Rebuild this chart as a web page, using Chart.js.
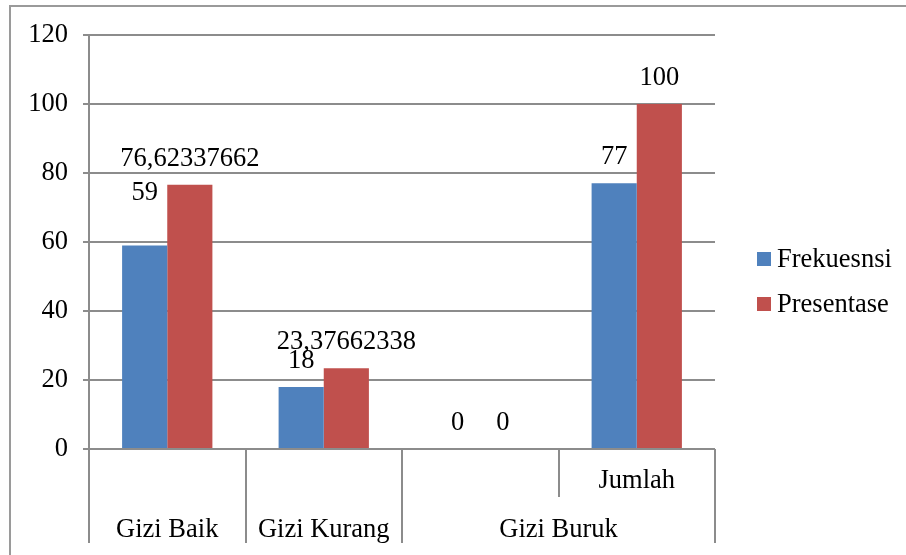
<!DOCTYPE html>
<html>
<head>
<meta charset="utf-8">
<script src="https://cdn.jsdelivr.net/npm/chart.js@4/dist/chart.umd.min.js"></script>
<style>
  html, body { margin: 0; padding: 0; background: #fff; }
  #wrap { width: 906px; height: 555px; }
</style>
</head>
<body>
<div id="wrap"><canvas id="chartGizi" width="906" height="555"></canvas></div>
<script>
const innerLabels = ["", "", "", "Jumlah"];
const groupLabels = ["Gizi Baik", "Gizi Kurang", "Gizi Buruk"];
const groupSpans = [1, 1, 2];
const frekuensi = [59, 18, 0, 77];
const presentase = [76.62337662, 23.37662338, 0, 100];
const seriesNames = ["Frekuesnsi", "Presentase"];
const seriesColors = ["#4f81bd", "#c0504d"];
const yMax = 120, yStep = 20;

const FAMILY = "'Liberation Serif', 'Times New Roman', serif";
const SIZE = 26.5;
const FONT = SIZE + "px " + FAMILY;
const LINE = "#8c8c8c";

// frame around the whole chart (only top/left visible in the crop)
const framePlugin = {
  id: "frame",
  beforeDraw(chart) {
    const c = chart.ctx;
    c.save();
    c.fillStyle = "#fff";
    c.fillRect(0, 0, chart.width, chart.height);
    c.strokeStyle = "#9a9a9a";
    c.lineWidth = 2;
    c.beginPath();
    c.moveTo(10, chart.height);
    c.lineTo(10, 6);
    c.lineTo(chart.width, 6);
    c.stroke();
    c.restore();
  }
};

// two-level category axis: inner row + grouped row
const categoryAxisPlugin = {
  id: "catAxis",
  afterDraw(chart) {
    const c = chart.ctx, area = chart.chartArea;
    const n = innerLabels.length;
    const w = (area.right - area.left) / n;
    c.save();
    c.strokeStyle = LINE;
    c.lineWidth = 2;
    // group boundaries run the full depth, inner ones only the first row
    const full = new Set([0]);
    let k = 0;
    groupSpans.forEach(s => { k += s; full.add(k); });
    for (let i = 0; i <= n; i++) {
      const x = Math.round(area.left + i * w);
      c.beginPath();
      c.moveTo(x, area.bottom);
      c.lineTo(x, area.bottom + (full.has(i) ? 94 : 48));
      c.stroke();
    }
    c.fillStyle = "#000";
    c.font = FONT;
    c.textAlign = "center";
    c.textBaseline = "middle";
    innerLabels.forEach((t, i) => {
      if (t) c.fillText(t, area.left + (i + 0.5) * w, area.bottom + 32);
    });
    let start = 0;
    groupLabels.forEach((t, g) => {
      const mid = area.left + (start + groupSpans[g] / 2) * w;
      c.fillText(t, mid, area.bottom + 81);
      start += groupSpans[g];
    });
    c.restore();
  }
};

// value labels above bars (Indonesian decimal comma)
const labelLift = { "0-0": 52 };
const valueLabelPlugin = {
  id: "valueLabels",
  afterDatasetsDraw(chart) {
    const c = chart.ctx;
    c.save();
    c.fillStyle = "#000";
    c.font = FONT;
    c.textAlign = "center";
    c.textBaseline = "middle";
    chart.data.datasets.forEach((ds, d) => {
      chart.getDatasetMeta(d).data.forEach((bar, i) => {
        const lift = labelLift[d + "-" + i] || 26;
        c.fillText(String(ds.data[i]).replace(".", ","), bar.x, bar.y - lift);
      });
    });
    c.restore();
  }
};

// legend at the right
const legendPlugin = {
  id: "sideLegend",
  afterDraw(chart) {
    const c = chart.ctx;
    c.save();
    c.font = FONT;
    c.textBaseline = "middle";
    c.textAlign = "left";
    seriesNames.forEach((name, i) => {
      const cy = 259 + i * 45;
      c.fillStyle = seriesColors[i];
      c.fillRect(757, cy - 7, 14, 14);
      c.fillStyle = "#000";
      c.fillText(name, 777, cy + 1);
    });
    c.restore();
  }
};

new Chart(document.getElementById("chartGizi"), {
  type: "bar",
  data: {
    labels: innerLabels,
    datasets: [
      { label: seriesNames[0], data: frekuensi, backgroundColor: seriesColors[0] },
      { label: seriesNames[1], data: presentase, backgroundColor: seriesColors[1] }
    ]
  },
  options: {
    responsive: false,
    animation: false,
    devicePixelRatio: 1,
    layout: { padding: { top: 35, right: 191, left: 0, bottom: 0 } },
    datasets: { bar: { categoryPercentage: 0.577, barPercentage: 1 } },
    plugins: { legend: { display: false }, tooltip: { enabled: false } },
    scales: {
      x: {
        grid: { display: false },
        border: { display: false },
        ticks: { display: false },
        afterFit(scale) { scale.height = 106; }
      },
      y: {
        min: 0,
        max: yMax,
        ticks: { stepSize: yStep, color: "#000", padding: 15, font: { family: FAMILY, size: SIZE } },
        grid: { color: LINE, lineWidth: 2, tickLength: 6 },
        border: { color: LINE, width: 2 },
        afterFit(scale) { scale.width = 89; }
      }
    }
  },
  plugins: [framePlugin, categoryAxisPlugin, valueLabelPlugin, legendPlugin]
});
</script>
</body>
</html>
